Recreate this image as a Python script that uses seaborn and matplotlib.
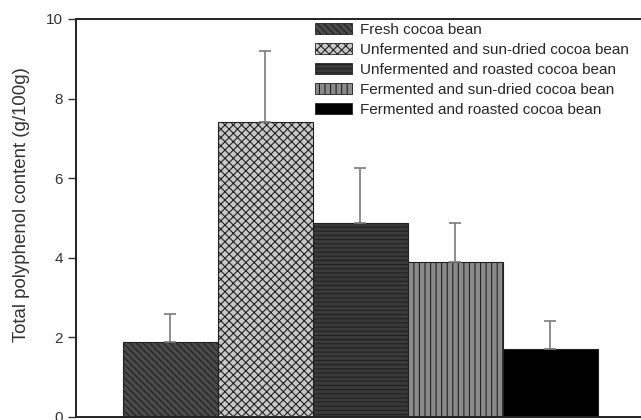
import numpy as np
import matplotlib
matplotlib.use("Agg")
import matplotlib.pyplot as plt
import seaborn as sns
from matplotlib.patches import Patch

# data
samples = [
    "Fresh cocoa bean",
    "Unfermented and sun-dried cocoa bean",
    "Unfermented and roasted cocoa bean",
    "Fermented and sun-dried cocoa bean",
    "Fermented and roasted cocoa bean",
]
polyphenol = [1.89, 7.41, 4.87, 3.90, 1.71]
sd = [0.69, 1.79, 1.38, 0.97, 0.70]

fills = ["#4a4a4a", "#c8c8c8", "#3a3a3a", "#8a8a8a", "#000000"]
hatches = ["\\\\\\\\\\", "xxxx", "----", "|||", ""]

sns.set_style("white")
plt.rcParams["font.family"] = ["Liberation Sans", "DejaVu Sans"]
plt.rcParams["hatch.linewidth"] = 0.8

fig = plt.figure(figsize=(6.41, 4.20), dpi=100)
ax = fig.add_axes([76 / 641, 3 / 420, 574 / 641, 398 / 420])

sns.barplot(x=samples, y=polyphenol, hue=samples, palette=fills,
            width=1.0, edgecolor="#222222", linewidth=0.8,
            legend=False, ax=ax)

for patch, h in zip(ax.patches, hatches):
    patch.set_hatch(h)

ax.errorbar(range(len(samples)), polyphenol,
            yerr=[np.zeros(len(sd)), sd], fmt="none",
            ecolor="#7a7a7a", elinewidth=1.2, capsize=4, capthick=1.2)

ax.set_ylim(0, 10)
ax.set_xlim(-0.995, 5.05)
ax.set_yticks([0, 2, 4, 6, 8, 10])
ax.set_xticks([])
ax.set_ylabel("Total polyphenol content (g/100g)", fontsize=13.4,
              color="#333333")
ax.yaxis.set_label_coords(-0.08, 0.533)
ax.tick_params(axis="y", left=True, length=6, width=1, direction="out",
               labelsize=11, colors="#333333", pad=3.5)

for s in ["left", "top", "bottom"]:
    ax.spines[s].set_color("#222222")
    ax.spines[s].set_linewidth(1.4)
ax.spines["right"].set_visible(False)

handles = [Patch(facecolor=f, edgecolor="#222222", hatch=h, linewidth=0.6)
           for f, h in zip(fills, hatches)]
ax.legend(handles, samples, loc="upper left",
          bbox_to_anchor=(315 / 641, 1 - 22.5 / 420),
          bbox_transform=fig.transFigure, frameon=False, fontsize=11,
          handlelength=2.42, handleheight=0.75, labelspacing=0.4,
          handletextpad=0.55, borderaxespad=0, borderpad=0)

fig.savefig("out.png", dpi=100)
